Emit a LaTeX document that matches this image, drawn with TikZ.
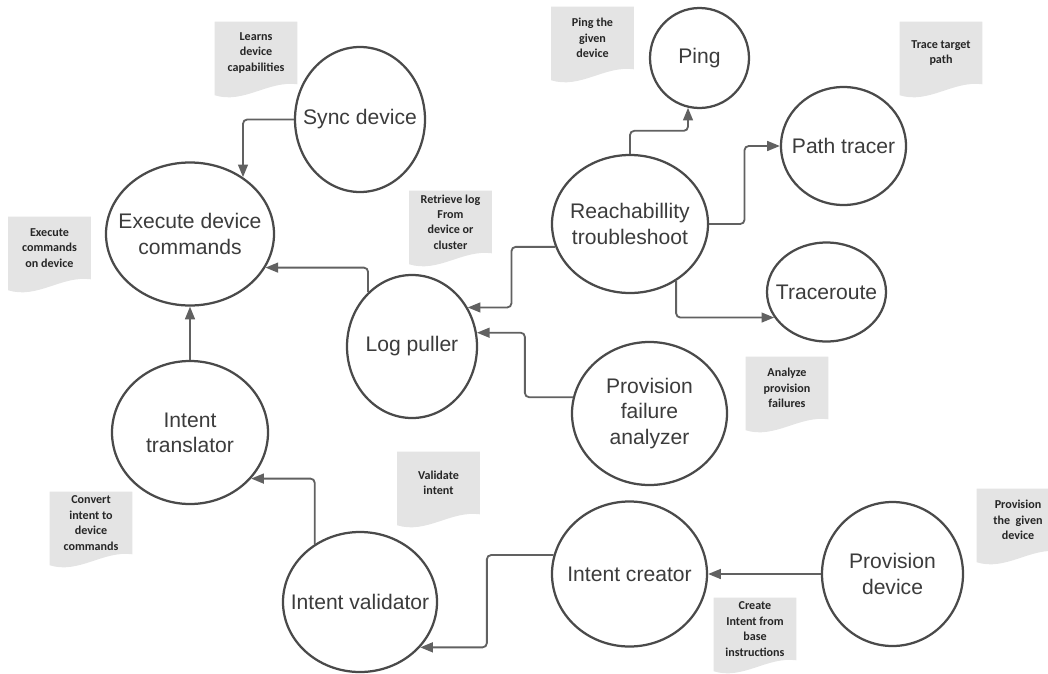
\documentclass[tikz,border=0pt]{standalone}
\usepackage{fontspec}
\setmainfont{Liberation Sans}
\newfontfamily\carlito{Carlito}
\usetikzlibrary{shapes.geometric, arrows.meta, calc, backgrounds}

\definecolor{ringline}{HTML}{4A4A4A}
\definecolor{wire}{HTML}{616161}
\definecolor{memofill}{HTML}{E4E4E4}
\definecolor{ringtext}{HTML}{3C3C3C}

\tikzset{
	bubble/.style 2 args={shape=ellipse, draw=ringline, line width=1.6pt, fill=white,
		minimum width=#1*0.5mm, minimum height=#2*0.5mm, inner sep=0pt},
	caption/.style={align=center, text=ringtext, font=\fontsize{15}{18}\selectfont},
	memo/.style={shape=rectangle, minimum width=20.5mm, minimum height=15.5mm, inner sep=0pt,
		align=center, text=black!85, font=\carlito\bfseries\fontsize{8.6}{11}\selectfont},
	flow/.style={draw=wire, line width=1.3pt, rounded corners=3pt, -{Triangle[length=9pt, width=7pt]}}
}

\begin{document}
\begin{tikzpicture}[x=0.25mm, y=-0.25mm]
	\useasboundingbox (0, 0) rectangle (1048, 673);
	% Bubbles:
	\node[bubble={65}{72.5}](sync) at (360, 119.5){};
	\node[bubble={84}{71.5}](exec) at (190, 234){};
	\node[bubble={49.5}{50}](ping) at (699.5, 58){};
	\node[bubble={62.5}{59}](path) at (843.5, 146){};
	\node[bubble={78}{69}](reach) at (630, 224){};
	\node[bubble={59.5}{49.5}](trace) at (826.5, 292){};
	\node[bubble={65}{71.5}](log) at (412, 346.5){};
	\node[bubble={77.5}{71.5}](pfa) at (649.5, 413.5){};
	\node[bubble={78}{71.5}](trans) at (190, 432.5){};
	\node[bubble={77}{70}](val) at (360, 602){};
	\node[bubble={77.5}{72.5}](create) at (629.5, 574){};
	\node[bubble={70.5}{72}](prov) at (892.5, 574){};
	\node[caption](sync-t) at (sync){Sync device};
	\node[caption](exec-t) at (exec){Execute device\\commands};
	\node[caption](ping-t) at (ping){Ping};
	\node[caption](path-t) at (path){Path tracer};
	\node[caption](reach-t) at (reach){Reachabillity\\troubleshoot};
	\node[caption](trace-t) at (trace){Traceroute};
	\node[caption](log-t) at (log){Log puller};
	\node[caption](pfa-t) at (pfa){Provision\\failure\\analyzer};
	\node[caption](trans-t) at (trans){Intent\\translator};
	\node[caption](val-t) at (val){Intent validator};
	\node[caption](create-t) at (create){Intent creator};
	\node[caption](prov-t) at (prov){Provision\\device};
	% Notes:
	\node[memo](mSync) at (256, 53){Learns\\device\\capabilities};
	\node[memo](mExec) at (49.5, 248){Execute\\commands\\on device};
	\node[memo](mLog) at (450.5, 222){Retrieve log\\From\\device or\\cluster};
	\node[memo](mPing) at (592.5, 38){Ping the\\given\\device};
	\node[memo](mPath) at (941, 53){Trace target\\path};
	\node[memo](mPfa) at (787, 388){Analyze\\provision\\failures};
	\node[memo](mTrans) at (91, 523){Convert\\intent to\\device\\commands};
	\node[memo](mVal) at (438.5, 483){Validate\\intent};
	\node[memo](mCreate) at (755, 629){Create\\Intent from\\base\\instructions};
	\node[memo](mProv) at (1018, 520){Provision\\the~ given\\device};
	\begin{scope}[on background layer]
		\foreach \m in {mSync, mExec, mLog, mPing, mPath, mPfa, mTrans, mVal, mCreate, mProv}
			\fill[memofill] (\m.north west) -- (\m.north east) -- (\m.south east)
				.. controls ($(\m.south east)+(-29, -4)$) and ($(\m.south west)+(29, 20)$) .. ($(\m.south west)+(0, 11)$) -- cycle;
	\end{scope}
	% Wires:
	\draw[flow] (sync.west) -| (exec.47);
	\draw[flow] (log.129) |- (exec.-24);
	\draw[flow] (trans.north) -- (exec.south);
	\draw[flow] (reach.197) -| ($(reach.197)!.5!(log.35)$) |- (log.35);
	\draw[flow] (pfa.168) -| ($(pfa.168)!.5!(log.12)$) |- (log.12);
	\draw[flow] (reach.north) |- ($(reach.north)!.5!(ping.257)$) -| (ping.257);
	\draw[flow] (reach.east) -| ($(reach.east)!.5!(path.west)$) |- (path.west);
	\draw[flow] (reach.309) |- (trace.206);
	\draw[flow] (val.128) |- (trans.-37);
	\draw[flow] (create.166) -| ($(create.166)!.5!(val.-37)$) |- (val.-37);
	\draw[flow] (prov.west) -- (create.east);
\end{tikzpicture}
\end{document}
